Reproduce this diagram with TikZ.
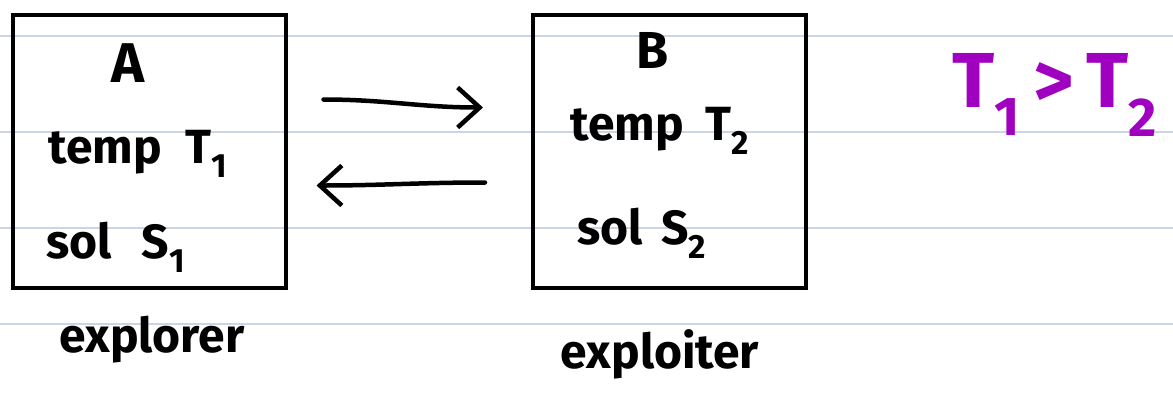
\documentclass[tikz,border=0pt]{standalone}
\usepackage{fontspec}
\setmainfont{Fira Sans}
\usetikzlibrary{arrows.meta,calc}
\definecolor{rule}{HTML}{CBD5E1}
\definecolor{ink}{HTML}{000000}
\definecolor{purp}{HTML}{A000C0}
\tikzset{
  boxst/.style={draw=ink, line width=4pt, minimum width=273pt, minimum height=273pt, inner sep=0pt},
  hw/.style={font=\fontsize{48}{54}\selectfont\bfseries, text=ink, anchor=base, inner sep=0pt},
  big/.style={font=\fontsize{78}{84}\selectfont\bfseries, text=purp, anchor=base, inner sep=0pt},
  flow/.style={draw=ink, line width=4.5pt, line cap=round, -{Straight Barb[length=22pt,width=40pt,line width=4.5pt]}},
}
\begin{document}
\begin{tikzpicture}[x=1pt,y=-1pt]
\useasboundingbox (0,0) rectangle (1173,392);
\fill[white] (0,0) rectangle (1173,392);
% ruled lines
\foreach \yy in {36,132,228,324} \draw[rule, line width=2pt] (0,\yy) -- (1173,\yy);
% boxes
\node[boxst] (A) at (149,151.5) {};
\node[boxst] (B) at (669.5,151.5) {};
% texts
\node[hw, font=\fontsize{56}{60}\selectfont\bfseries] (la) at (128,82) {A};
\node[hw] (ta) at (138,163) {temp\hspace{24pt}T\textsubscript{1}};
\node[hw] (sa) at (116,258) {sol\hspace{30pt}S\textsubscript{1}};
\node[hw] (ea) at (152,352) {explorer};
\node[hw, font=\fontsize{52}{60}\selectfont\bfseries] (lb) at (653,68) {B};
\node[hw] (tb) at (660,140) {temp\hspace{22pt}T\textsubscript{2}};
\node[hw] (sb) at (642,244) {sol\hspace{18pt}S\textsubscript{2}};
\node[hw] (eb) at (660,368) {exploiter};
\node[big] (rel) at (1055,107) {T\textsubscript{1}\,>\,T\textsubscript{2}};
% connectors
\coordinate (a1) at ($(A.east)+(36,-52)$);
\coordinate (b1) at ($(B.west)+(-48,-44)$);
\draw[flow] (a1) to[out=0,in=180] (b1);
\coordinate (b2) at ($(B.west)+(-46,31)$);
\coordinate (a2) at ($(A.east)+(29,34)$);
\draw[flow] (b2) to[out=180,in=0] (a2);
\end{tikzpicture}
\end{document}
